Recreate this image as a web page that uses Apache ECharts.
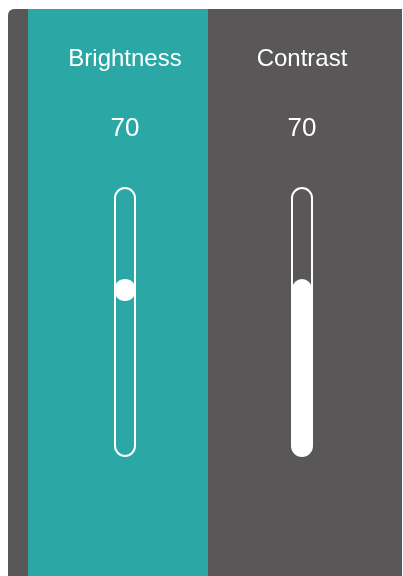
<!DOCTYPE html>
<html>
<head>
<meta charset="utf-8">
<script src="https://cdn.jsdelivr.net/npm/echarts@6/dist/echarts.min.js"></script>
<style>
html,body{margin:0;padding:0;background:#fff;}
#chart{width:403px;height:576px;}
</style>
</head>
<body>
<div id="chart"></div>
<script>
// Data
const labels = ['Brightness', 'Contrast'];
const values = [70, 70];
const axisMax = 106;

const TEAL = '#2ba8a5';
const GRAY = '#5a5758';
const colCenters = [125, 302];

const chart = echarts.init(document.getElementById('chart'), null, {renderer: 'canvas'});

const grids = colCenters.map(c => ({left: c - 20, width: 40, top: 188, bottom: 120}));
const xAxes = colCenters.map((c, i) => ({type: 'category', gridIndex: i, data: [labels[i]], show: false}));
const yAxes = colCenters.map((c, i) => ({type: 'value', gridIndex: i, min: 0, max: axisMax, show: false}));

const track = {
  color: 'rgba(0,0,0,0)', borderColor: '#fff', borderWidth: 2, borderRadius: 10
};

const series = [
  {
    type: 'bar', xAxisIndex: 0, yAxisIndex: 0, data: [values[0]], barWidth: 20,
    itemStyle: {color: 'rgba(0,0,0,0)'},
    showBackground: true, backgroundStyle: track, silent: true
  },
  {
    type: 'scatter', xAxisIndex: 0, yAxisIndex: 0, data: [values[0]],
    symbol: 'circle', symbolSize: 22, symbolOffset: [0, 11],
    itemStyle: {color: '#fff', opacity: 1}, z: 5
  },
  {
    type: 'bar', xAxisIndex: 1, yAxisIndex: 1, data: [values[1]], barWidth: 20,
    itemStyle: {color: '#fff', borderRadius: 10},
    showBackground: true, backgroundStyle: track
  }
];

const graphics = [
  {type: 'rect', shape: {x: 8, y: 9, width: 394, height: 600, r: [6, 0, 0, 0]}, style: {fill: GRAY}, z: -10},
  {type: 'rect', shape: {x: 28, y: 9, width: 180, height: 600}, style: {fill: TEAL}, z: -9}
];
labels.forEach((t, i) => {
  graphics.push({type: 'text', x: colCenters[i], y: 59, z: 10,
    style: {text: t, fill: '#fff', font: '24px "Liberation Sans", Arial, sans-serif', align: 'center', verticalAlign: 'middle'}});
  graphics.push({type: 'text', x: colCenters[i], y: 129, z: 10,
    style: {text: String(values[i]), fill: '#fff', font: '26px "Liberation Sans", Arial, sans-serif', align: 'center', verticalAlign: 'middle'}});
});

chart.setOption({
  animation: false,
  backgroundColor: '#fff',
  grid: grids,
  xAxis: xAxes,
  yAxis: yAxes,
  series: series,
  graphic: graphics
});
</script>
</body>
</html>
